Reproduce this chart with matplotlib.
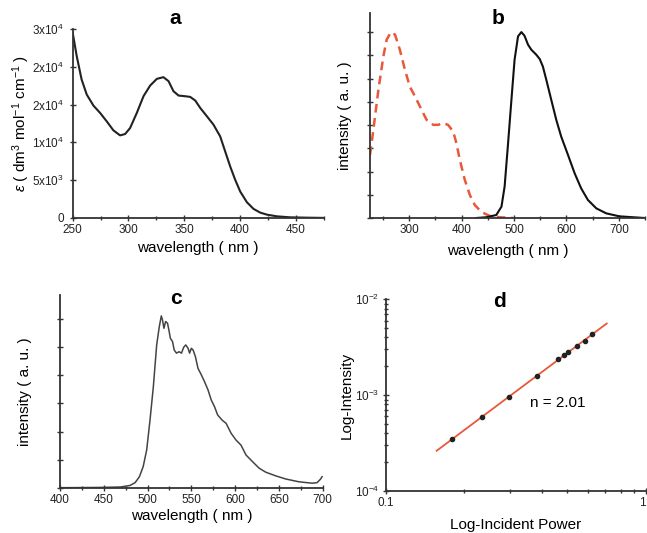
import numpy as np
import matplotlib
matplotlib.use("Agg")
import matplotlib.pyplot as plt
from matplotlib.ticker import MultipleLocator, NullFormatter, LogLocator

plt.rcParams['font.family'] = ['Liberation Sans', 'DejaVu Sans']
plt.rcParams['mathtext.fontset'] = 'custom'
plt.rcParams['mathtext.rm'] = 'Liberation Sans'
plt.rcParams['mathtext.it'] = 'Liberation Sans:italic'

# panel a: absorption
abs_wl = [250, 253.6, 258, 262.6, 268.6, 274.6, 280.5, 286.5, 292.5, 297, 301.5, 307.5,
          313.5, 319.5, 325.5, 331.4, 336, 340.4, 345, 351, 355.4, 360, 364.4, 370.4,
          376.3, 382.3, 386.8, 391.3, 395.8, 400.3, 406.3, 412.3, 418.3, 424.3, 433.2,
          445.2, 460, 481]
abs_eps = [24513, 21416, 18319, 16327, 14867, 13894, 12788, 11593, 10929, 11106, 11903,
           13894, 16106, 17522, 18407, 18628, 18097, 16770, 16195, 16106, 16018, 15531,
           14558, 13451, 12345, 10796, 8805, 6814, 5044, 3496, 2080, 1195, 708, 442, 221,
           88, 44, 0]
a_ticks = [0, 5000, 10000, 15000, 20000, 25000]
a_ticklabels = ['0', r'5x10$^3$', r'1x10$^4$', r'2x10$^4$', r'2x10$^4$', r'3x10$^4$']

# panel b: excitation (dashed) and emission (solid)
exc_wl = [225, 231.4, 241, 250.5, 256.8, 265, 272.7, 282, 291.7, 301, 310.8, 320.3, 333,
          345.7, 355, 364.8, 374, 383.8, 390, 396.5, 406, 415.6, 425, 437.8, 453.7, 472.7, 498]
exc_int = [0.339, 0.474, 0.689, 0.869, 0.959, 1.0, 0.986, 0.905, 0.797, 0.707, 0.654, 0.6,
           0.528, 0.501, 0.501, 0.51, 0.501, 0.465, 0.402, 0.312, 0.205, 0.124, 0.07, 0.032,
           0.011, 0.004, 0.0]
em_wl = [428, 447, 466, 476, 482, 488.6, 495, 501, 507.6, 514, 520, 526.7, 533, 542.5, 549,
         555, 561.6, 571, 580.6, 590, 603, 615.6, 628, 641, 657, 676, 701, 749]
em_int = [0.0, 0.004, 0.016, 0.061, 0.169, 0.402, 0.636, 0.851, 0.977, 1.0, 0.98, 0.932,
          0.905, 0.878, 0.855, 0.815, 0.743, 0.636, 0.528, 0.438, 0.339, 0.241, 0.16, 0.097,
          0.052, 0.025, 0.009, 0.0]

# panel c: two-photon emission
tp_wl = [400.7, 446, 468.8, 480, 485.8, 490.7, 495, 499, 502.8, 506.6, 510.4, 513.4, 515.7,
         517, 518.7, 520.6, 522.8, 524.7, 526, 528.5, 530.4, 533, 536, 538.7, 541.3, 543.6,
         546.3, 548, 550, 552, 554.6, 557.6, 561.4, 565, 569, 572.7, 576.5, 580, 585, 589.7,
         595.4, 601, 606.7, 612.4, 620, 627.5, 635, 646.4, 657.7, 672.8, 688, 693.6, 697.4, 699.3]
tp_int = [0.01, 0.02, 0.035, 0.09, 0.19, 0.40, 0.76, 1.35, 2.41, 3.59, 5.07, 5.72, 6.10, 5.96,
          5.66, 5.90, 5.84, 5.54, 5.31, 5.19, 4.89, 4.78, 4.83, 4.78, 4.99, 5.07, 4.95, 4.78,
          4.95, 4.89, 4.66, 4.24, 4.01, 3.77, 3.48, 3.12, 2.88, 2.59, 2.41, 2.29, 1.94, 1.70,
          1.52, 1.17, 0.93, 0.70, 0.56, 0.43, 0.32, 0.22, 0.17, 0.19, 0.31, 0.40]

# panel d: power dependence
power = [0.1795, 0.2347, 0.299, 0.383, 0.4587, 0.4837, 0.504, 0.5445, 0.5845, 0.6217]
log_int = [3.45e-4, 5.95e-4, 9.6e-4, 1.60e-3, 2.37e-3, 2.61e-3, 2.83e-3, 3.29e-3, 3.65e-3, 4.32e-3]
fit_range = [0.157, 0.708]
n_slope = 2.01

W, H = 647, 533
fig = plt.figure(figsize=(W / 100, H / 100), dpi=100)


def box(l, t, r, b):
    return [l / W, 1 - b / H, (r - l) / W, (b - t) / H]


spine_c = '#333333'
red = '#e8583a'


def style(ax):
    for s in ['top', 'right']:
        ax.spines[s].set_visible(False)
    for s in ['left', 'bottom']:
        ax.spines[s].set_color(spine_c)
        ax.spines[s].set_linewidth(1.3)
    ax.tick_params(which='both', direction='inout', color=spine_c, labelsize=8.5,
                   width=1, labelcolor='#222222')
    ax.tick_params(axis='x', which='both', pad=2)
    ax.tick_params(axis='y', which='both', pad=2.5)
    ax.tick_params(which='major', length=4)
    ax.tick_params(which='minor', length=3)


lab = dict(fontsize=11)

# a
ax = fig.add_axes(box(72.7, 29, 323.5, 218))
ax.plot(abs_wl, abs_eps, color='#222222', lw=1.5)
ax.set_xlim(250, 475)
ax.set_ylim(0, 25000)
ax.set_xticks([250, 300, 350, 400, 450])
ax.xaxis.set_minor_locator(MultipleLocator(25))
ax.set_yticks(a_ticks, a_ticklabels)
style(ax)
ax.tick_params(axis='y', pad=4)
ax.set_xlabel('wavelength ( nm )', **lab)
ax.set_ylabel(r'$\epsilon$ ( dm$^3$ mol$^{-1}$ cm$^{-1}$ )', **lab)
ax.xaxis.set_label_coords(0.5, -0.16)
ax.yaxis.set_label_coords(-0.205, 0.5)
ax.xaxis.label.set_va('center')
ax.yaxis.label.set_va('center')

# b
ax = fig.add_axes(box(370, 13, 645, 218))
ax.plot(exc_wl, exc_int, color=red, lw=1.8, dashes=(3.5, 2.2))
ax.plot(em_wl, em_int, color='#111111', lw=1.5)
ax.set_xlim(225, 750)
ax.set_ylim(0, 1.1025)
ax.set_xticks([300, 400, 500, 600, 700])
ax.xaxis.set_minor_locator(MultipleLocator(50))
ax.yaxis.set_major_locator(MultipleLocator(0.125))
ax.yaxis.set_major_formatter(NullFormatter())
style(ax)
ax.set_xlabel('wavelength ( nm )', **lab)
ax.set_ylabel('intensity ( a. u. )', **lab)
ax.xaxis.set_label_coords(0.5, -0.16)
ax.yaxis.set_label_coords(-0.091, 0.5)
ax.xaxis.label.set_va('center')
ax.yaxis.label.set_va('center')

# c
ax = fig.add_axes(box(60, 295, 322.7, 488))
ax.plot(tp_wl, tp_int, color='#444444', lw=1.1)
ax.set_xlim(400, 700)
ax.set_ylim(0, 6.84)
ax.set_xticks([400, 450, 500, 550, 600, 650, 700])
ax.xaxis.set_minor_locator(MultipleLocator(25))
ax.yaxis.set_major_locator(MultipleLocator(1))
ax.yaxis.set_major_formatter(NullFormatter())
style(ax)
ax.set_xlabel('wavelength ( nm )', **lab)
ax.set_ylabel('intensity ( a. u. )', **lab)
ax.xaxis.set_label_coords(0.5, -0.145)
ax.yaxis.set_label_coords(-0.133, 0.5)
ax.xaxis.label.set_va('center')
ax.yaxis.label.set_va('center')

# d
ax = fig.add_axes(box(385.7, 299.3, 645.7, 491))
ax.set_xscale('log')
ax.set_yscale('log')
k, b = np.polyfit(np.log10(power), np.log10(log_int), 1)
fx = np.array(fit_range)
ax.plot(fx, 10 ** (k * np.log10(fx) + b), color=red, lw=1.3)
ax.plot(power, log_int, 'o', color='#222222', ms=3)
ax.set_xlim(0.1, 1)
ax.set_ylim(1e-4, 1e-2)
ax.set_xticks([0.1, 1], ['0.1', '1'])
ax.xaxis.set_minor_locator(LogLocator(subs=np.arange(2, 10)))
ax.xaxis.set_minor_formatter(NullFormatter())
ax.set_yticks([1e-4, 1e-3, 1e-2], [r'10$^{-4}$', r'10$^{-3}$', r'10$^{-2}$'])
ax.yaxis.set_minor_locator(LogLocator(subs=np.arange(2, 10)))
ax.yaxis.set_minor_formatter(NullFormatter())
style(ax)
ax.get_xticklabels()[-1].set_ha('right')
ax.text(0.663, 0.46, 'n = %.2f' % n_slope, transform=ax.transAxes, ha='center',
        va='center', fontsize=11)
ax.set_xlabel('Log-Incident Power', **lab)
ax.set_ylabel('Log-Intensity', **lab)
ax.xaxis.set_label_coords(0.5, -0.177)
ax.yaxis.set_label_coords(-0.149, 0.5)
ax.xaxis.label.set_va('center')
ax.yaxis.label.set_va('center')

for txt, x, y in [('a', 175, 18), ('b', 497.7, 18), ('c', 176, 299), ('d', 499, 301.7)]:
    fig.text(x / W, 1 - y / H, txt, ha='center', va='center', fontsize=15,
             fontweight='bold')

fig.savefig('out.png', dpi=100)
